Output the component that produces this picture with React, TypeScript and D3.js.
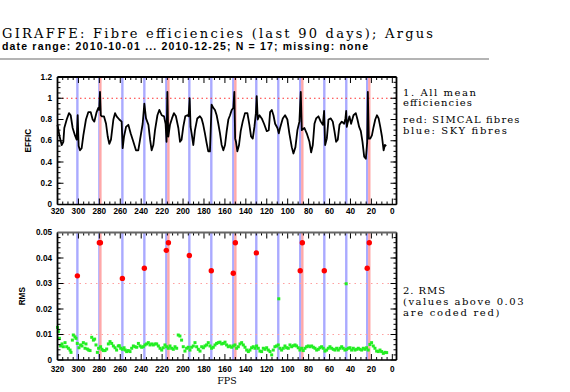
import * as d3 from "d3";
import React from "react";

// fibre numbers of the calibration fibres
const skyFibres = [301, 280, 258, 237, 216, 194, 173, 152, 130, 109, 88, 65, 44, 24];
const simcalFibres = [279, 214, 150, 86, 22];

// mean efficiency per fibre [fps, effic]
const effic: [number, number][] = [
  [320, 0.75], [318.2, 0.65], [316, 0.56], [314.4, 0.59], [313.5, 0.72], [311.2, 0.8], [309, 0.86],
  [307.4, 0.84], [305.5, 0.72], [303.3, 0.65], [301.7, 0.61], [300.7, 0.84], [299.8, 0.55], [298.5, 0.51],
  [296.9, 0.53], [295.3, 0.65], [292.8, 0.8], [290.5, 0.87], [288.3, 0.87], [286.4, 0.8], [284.8, 0.78],
  [282.6, 0.87], [281, 0.91], [280.2, 0.89], [279.4, 1.06], [278.6, 0.84], [277.8, 0.83], [275.6, 0.83],
  [273.6, 0.76], [272, 0.64], [270.5, 0.57], [268.9, 0.61], [266.6, 0.8], [265, 0.86], [263.5, 0.83],
  [260.9, 0.8], [258.7, 0.78], [257.7, 0.53], [256.4, 0.64], [254.5, 0.73], [252.3, 0.75], [250.1, 0.67],
  [247.5, 0.59], [245, 0.51], [242.8, 0.51], [241.1, 0.61], [238.6, 0.76], [237, 0.95], [235.4, 0.81],
  [233.1, 0.75], [231.5, 0.61], [230, 0.51], [228.4, 0.56], [226.8, 0.7], [224.5, 0.84], [222.7, 0.89],
  [220.4, 0.84], [218.2, 0.83], [216.7, 0.76], [215.8, 0.59], [215, 1.06], [214.1, 0.64], [212.5, 0.75],
  [210.6, 0.81], [208.7, 0.86], [206.8, 0.83], [204.5, 0.72], [202.9, 0.59], [201.4, 0.61], [199.8, 0.73],
  [197.9, 0.83], [196, 0.84], [194.7, 0.83], [193.7, 1.0], [192.8, 0.73], [191.8, 0.67], [190.2, 0.56],
  [188.6, 0.7], [186.4, 0.81], [183.9, 0.83], [182.3, 0.81], [180.7, 0.75], [179.1, 0.67], [177.5, 0.58],
  [175.9, 0.5], [174.3, 0.5], [172.7, 0.94], [171.1, 0.91], [169.5, 0.89], [167.9, 0.84], [166.3, 0.76],
  [164.7, 0.67], [163.1, 0.56], [161.5, 0.51], [159.9, 0.56], [158.3, 0.69], [156.7, 0.8], [155.1, 0.84],
  [153.5, 0.89], [151.9, 0.91], [151, 1.06], [150.2, 0.62], [149.4, 0.59], [148.1, 0.5], [146.5, 0.56],
  [144.9, 0.69], [143, 0.78], [140.8, 0.86], [138.5, 0.86], [136.6, 0.75], [135, 0.64], [133.4, 0.62],
  [131.8, 0.73], [130.4, 0.86], [129.6, 1.02], [128.6, 0.8], [127, 0.84], [124.8, 0.81], [122.6, 0.76],
  [120, 0.69], [118.1, 0.7], [116.8, 0.87], [115.2, 0.89], [113.6, 0.84], [112, 0.76], [109.8, 0.72],
  [108.5, 0.67], [107.3, 0.72], [104.7, 0.81], [102.5, 0.84], [100.3, 0.8], [98.4, 0.67], [96.1, 0.54],
  [94.5, 0.48], [92.6, 0.54], [90.7, 0.7], [88.8, 0.78], [87.5, 1.06], [86.5, 0.7], [84, 0.72],
  [81.8, 0.67], [79.2, 0.59], [77.6, 0.49], [76, 0.56], [74.4, 0.76], [72.8, 0.81], [70.6, 0.83],
  [68.4, 0.78], [66.4, 0.75], [65.2, 0.88], [64.2, 0.56], [62.6, 0.62], [61, 0.8], [58.8, 0.81],
  [56.9, 0.78], [55.3, 0.69], [53.7, 0.59], [52.1, 0.61], [50.5, 0.75], [48.3, 0.78], [46, 0.76],
  [44.8, 0.81], [44.1, 0.88], [43.5, 0.73], [42.9, 0.76], [41, 0.83], [39.4, 0.76], [37.1, 0.84],
  [34.9, 0.86], [33.3, 0.8], [31.7, 0.73], [30.1, 0.69], [28.5, 0.59], [26.9, 0.45], [25.3, 0.43],
  [24, 0.59], [23.4, 1.06], [22.5, 0.62], [21.1, 0.62], [19.5, 0.65], [17.9, 0.73], [16.3, 0.8],
  [14.7, 0.84], [13.1, 0.81], [11.5, 0.73], [9.9, 0.64], [8.3, 0.51], [7.1, 0.56], [5.8, 0.55],
];

// rms above 0.03 (red)
const rmsHigh: [number, number][] = [
  [301, 0.033], [280, 0.046], [279, 0.046], [258, 0.032], [237, 0.036], [216, 0.043], [214, 0.046],
  [194, 0.041], [173, 0.035], [152, 0.034], [150, 0.046], [130, 0.042], [88, 0.035], [86, 0.046],
  [65, 0.035], [24, 0.036], [22, 0.046],
];

// rms below 0.03 (green)
const rmsLow: [number, number][] = [
  [320, 0.0128], [319.2, 0.0111], [318.2, 0.0085], [317, 0.0055], [315.7, 0.0063], [314.4, 0.0052],
  [312.8, 0.0068], [311.2, 0.0052], [309.6, 0.0046], [308, 0.0039], [307.1, 0.003], [305.8, 0.0078],
  [304.9, 0.0098], [303.3, 0.0091], [302.3, 0.0085], [301.1, 0.0065], [299.5, 0.0048], [297.9, 0.0059],
  [296.6, 0.0055], [295.3, 0.0068], [293.7, 0.0046], [292.8, 0.0063], [291.5, 0.0043], [290.2, 0.0039],
  [288.9, 0.0037], [287.3, 0.0089], [285.7, 0.0078], [284.5, 0.0082], [283.2, 0.0059], [281.9, 0.003],
  [280.7, 0.0046], [278.8, 0.0052], [277.5, 0.0042], [276.2, 0.0037], [274.6, 0.0037], [273, 0.0043],
  [271.4, 0.0063], [269.8, 0.0072], [268.2, 0.0065], [266.6, 0.0055], [265, 0.0048], [263.5, 0.0039],
  [261.9, 0.0055], [260.9, 0.0056], [259.6, 0.0046], [258, 0.0042], [256.4, 0.0048], [255.2, 0.0039],
  [253.9, 0.0033], [252.3, 0.0037], [250.7, 0.0033], [249.1, 0.0046], [247.5, 0.0055], [245.9, 0.0052],
  [244.3, 0.005], [242.7, 0.0065], [241.1, 0.0055], [239.6, 0.005], [238, 0.0052], [236.4, 0.0059],
  [234.8, 0.0063], [233.2, 0.0068], [231.6, 0.0059], [230, 0.0063], [228.4, 0.0059], [226.8, 0.0063],
  [225.2, 0.0063], [223.6, 0.0055], [222, 0.0046], [220.4, 0.0039], [218.9, 0.0048], [217.3, 0.0059],
  [215.7, 0.0052], [214.1, 0.0046], [212.5, 0.0055], [210.9, 0.0046], [209.3, 0.0042], [207.7, 0.0052],
  [206.1, 0.0046], [204.6, 0.0098], [203, 0.0094], [201.4, 0.0078], [199.8, 0.0052], [198.2, 0.0035],
  [196.6, 0.0046], [195, 0.005], [193.4, 0.0039], [191.8, 0.005], [190.2, 0.0055], [188.6, 0.0068],
  [187, 0.0052], [185.4, 0.0042], [183.8, 0.0035], [182.2, 0.0052], [180.6, 0.0048], [179.1, 0.0055],
  [177.5, 0.0059], [175.9, 0.0068], [174.3, 0.0055], [172.7, 0.0046], [171.1, 0.005], [169.5, 0.0059],
  [167.9, 0.0065], [166.3, 0.0068], [164.7, 0.007], [163.1, 0.0063], [161.5, 0.0065], [159.9, 0.007],
  [158.4, 0.0059], [156.8, 0.0052], [155.2, 0.0055], [153.6, 0.005], [152, 0.0055], [150.4, 0.0059],
  [148.8, 0.0046], [147.2, 0.0052], [145.6, 0.0063], [144, 0.0068], [142.4, 0.0059], [140.8, 0.005],
  [139.2, 0.0039], [137.6, 0.0033], [136.1, 0.0039], [134.5, 0.0048], [132.9, 0.0052], [131.3, 0.0046],
  [129.7, 0.0055], [128.1, 0.0046], [126.5, 0.0035], [124.9, 0.0033], [123.3, 0.0046], [121.7, 0.0042],
  [120.1, 0.0048], [118.5, 0.0039], [116.9, 0.0033], [115.3, 0.002], [113.8, 0.0039], [112.2, 0.0052],
  [110.6, 0.0055], [109, 0.0059], [108.5, 0.024], [107.4, 0.0046], [105.8, 0.0039], [104.2, 0.0046],
  [102.6, 0.0055], [101, 0.0048], [99.4, 0.0046], [97.8, 0.0059], [96.2, 0.0052], [94.6, 0.0056],
  [93, 0.0059], [91.5, 0.0055], [89.9, 0.0048], [88.3, 0.0039], [86.7, 0.0046], [85.1, 0.0037],
  [83.5, 0.0046], [81.9, 0.0052], [80.3, 0.0055], [78.7, 0.0052], [77.1, 0.0055], [75.5, 0.005],
  [73.9, 0.0046], [72.3, 0.0039], [70.7, 0.0042], [69.2, 0.0048], [67.6, 0.0052], [66, 0.0046],
  [64.4, 0.0035], [62.8, 0.0039], [61.2, 0.0046], [59.6, 0.0052], [58, 0.0046], [56.4, 0.0042],
  [54.8, 0.0039], [53.2, 0.0046], [51.6, 0.0039], [50, 0.0046], [48.4, 0.0052], [46.9, 0.0046],
  [45.3, 0.0039], [44.1, 0.0299], [43.7, 0.0042], [42.1, 0.0046], [40.5, 0.0048], [38.9, 0.0039],
  [37.3, 0.0046], [35.7, 0.0039], [34.1, 0.0042], [32.5, 0.0046], [30.9, 0.0042], [29.3, 0.0039],
  [27.7, 0.0046], [26.2, 0.0042], [24.6, 0.0048], [23, 0.0039], [21.4, 0.0061], [19.8, 0.0068],
  [18.2, 0.0055], [16.6, 0.0046], [15, 0.0035], [13.4, 0.0033], [11.8, 0.0039], [10.2, 0.0033],
  [8.6, 0.0026], [7, 0.003], [5.4, 0.0029],
];

const fpsTicks = [320, 300, 280, 260, 240, 220, 200, 180, 160, 140, 120, 100, 80, 60, 40, 20, 0];
const efficTicks = [0, 0.2, 0.4, 0.6, 0.8, 1, 1.2];
const efficLabels = ["0", "0.2", "0.4", "0.6", "0.8", "1", "1.2"];
const rmsTicks = [0, 0.01, 0.02, 0.03, 0.04, 0.05];
const rmsLabels = ["0", "0.01", "0.02", "0.03", "0.04", "0.05"];

const x = d3.scaleLinear().domain([320, -4]).range([57.5, 396.5]);
const yE = d3.scaleLinear().domain([0, 1.2]).range([204.5, 77]);
const yR = d3.scaleLinear().domain([0, 0.05]).range([360, 232.5]);

const tickFont = { fontFamily: "Liberation Sans, Arial", fontWeight: 700, fontSize: 8.2 };
const serif = { fontFamily: "DejaVu Serif", fontSize: 10 };

function Axes({ y, ticks, labels, minorStep, labelY, topColor }) {
  const [x0, x1] = x.range();
  const [yb, yt] = y.range();
  const xMinor = d3.range(0, 321, 5).filter((v) => v % 20 !== 0);
  const dom = y.domain();
  const n = Math.round((dom[1] - dom[0]) / minorStep);
  const yMinor = d3.range(1, n).map((i) => i * minorStep);
  return (
    <g stroke="#000" strokeWidth={1}>
      {xMinor.map((v) => (
        <g key={"xm" + v}>
          <line x1={x(v)} x2={x(v)} y1={yb} y2={yb - 3} />
          <line x1={x(v)} x2={x(v)} y1={yt} y2={yt + 3} />
        </g>
      ))}
      {fpsTicks.map((v) => (
        <g key={"xt" + v}>
          <line x1={x(v)} x2={x(v)} y1={yb} y2={yb - 6} />
          <line x1={x(v)} x2={x(v)} y1={yt} y2={yt + 6} />
        </g>
      ))}
      {yMinor.map((v) => (
        <g key={"ym" + v}>
          <line x1={x0} x2={x0 + 3} y1={y(v)} y2={y(v)} />
          <line x1={x1} x2={x1 - 3} y1={y(v)} y2={y(v)} />
        </g>
      ))}
      {ticks.map((v) => (
        <g key={"yt" + v}>
          <line x1={x0} x2={x0 + 6} y1={y(v)} y2={y(v)} />
          <line x1={x1} x2={x1 - 6} y1={y(v)} y2={y(v)} />
        </g>
      ))}
      <line x1={x0} x2={x0} y1={yb} y2={yt} strokeWidth={1.8} />
      <line x1={x1} x2={x1} y1={yb} y2={yt} strokeWidth={1.8} />
      <line x1={x0} x2={x1} y1={yb} y2={yb} strokeWidth={1.6} />
      <line x1={x0} x2={x1} y1={yt} y2={yt} strokeWidth={1.8} stroke={topColor} />
      <g stroke="none" fill="#000" style={tickFont}>
        {ticks.map((v, i) => (
          <text key={"yl" + v} x={52} y={y(v) + 2.5} textAnchor="end">{labels[i]}</text>
        ))}
        {fpsTicks.map((v) => (
          <text key={"xl" + v} x={x(v)} y={labelY} textAnchor="middle">{v}</text>
        ))}
      </g>
    </g>
  );
}

function Stripes({ y }) {
  const [yb, yt] = y.range();
  return (
    <g strokeWidth={2.4}>
      {skyFibres.map((f) => (
        <line key={"s" + f} x1={x(f)} x2={x(f)} y1={yb} y2={yt} stroke="#aaaaff" />
      ))}
      {simcalFibres.map((f) => (
        <line key={"c" + f} x1={x(f)} x2={x(f)} y1={yb} y2={yt} stroke="#ffa8a8" />
      ))}
    </g>
  );
}

export default function App() {
  const line = d3.line<[number, number]>().x((d) => x(d[0])).y((d) => yE(d[1]));
  const [x0, x1] = x.range();
  return (
    <svg width={570} height={392} style={{ position: "absolute", left: 0, top: 0 }}>
      <rect width={570} height={392} fill="#fff" />
      <text x={2} y={37.5} fontFamily="DejaVu Serif" fontSize={13} textLength={431} lengthAdjust="spacing">
        GIRAFFE: Fibre efficiencies (last 90 days); Argus
      </text>
      <text x={2} y={50} fontFamily="Liberation Sans, Arial" fontWeight={700} fontSize={10.5} textLength={366} lengthAdjust="spacing">
        date range: 2010-10-01 ... 2010-12-25; N = 17; missing: none
      </text>
      <line x1={0} x2={489} y1={59} y2={59} stroke="#b4b4b4" strokeWidth={2} />

      {/* top panel */}
      <Stripes y={yE} />
      <line x1={x0} x2={x1} y1={yE(1)} y2={yE(1)} stroke="#ff3030" strokeWidth={1} strokeDasharray="1.5,3" />
      <path d={line(effic)} fill="none" stroke="#000" strokeWidth={1.8} strokeLinejoin="round" />
      <Axes y={yE} ticks={efficTicks} labels={efficLabels} minorStep={0.05} labelY={214} topColor="#000" />
      <text transform={`translate(30.5,${yE(0.6)}) rotate(-90)`} textAnchor="middle" style={tickFont}>EFFIC</text>

      {/* bottom panel */}
      <Stripes y={yR} />
      {[0.01, 0.03].map((v) => (
        <line key={"h" + v} x1={x0} x2={x1} y1={yR(v)} y2={yR(v)} stroke="#ffa0a0" strokeWidth={1.2} strokeDasharray="1.5,4" />
      ))}
      {rmsLow.map((d, i) => (
        <rect key={"g" + i} x={x(d[0]) - 1.5} y={yR(d[1]) - 1.5} width={3} height={3} fill="#22ee22" />
      ))}
      {rmsHigh.map((d, i) => (
        <circle key={"r" + i} cx={x(d[0])} cy={yR(d[1])} r={2.7} fill="#ff0000" />
      ))}
      <Axes y={yR} ticks={rmsTicks} labels={rmsLabels} minorStep={0.002} labelY={372} topColor="#666" />
      <text transform={`translate(25,${yR(0.025)}) rotate(-90)`} textAnchor="middle" style={tickFont}>RMS</text>
      <text x={(x0 + x1) / 2} y={384} textAnchor="middle" fontFamily="DejaVu Serif" fontSize={9.5}>FPS</text>

      {/* notes */}
      <g style={serif}>
        <text x={403} y={95.5} textLength={73} lengthAdjust="spacing">1. All mean</text>
        <text x={403} y={106} textLength={69} lengthAdjust="spacing">efficiencies</text>
        <text x={403} y={123.3} textLength={116.5} lengthAdjust="spacing">red: SIMCAL fibres</text>
        <text x={403} y={134.3} textLength={104} lengthAdjust="spacing">blue: SKY fibres</text>
        <text x={403} y={294} textLength={42} lengthAdjust="spacing">2. RMS</text>
        <text x={403} y={304.8} textLength={120.5} lengthAdjust="spacing">(values above 0.03</text>
        <text x={403} y={315.5} textLength={96.5} lengthAdjust="spacing">are coded red)</text>
      </g>
    </svg>
  );
}
